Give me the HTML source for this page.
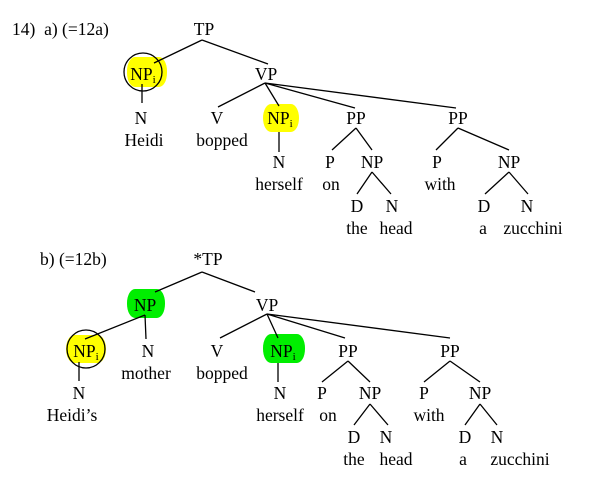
<!DOCTYPE html>
<html><head><meta charset="utf-8"><style>
html,body{margin:0;padding:0;background:#fff;}
svg text{font-family:"Liberation Serif",serif;font-size:17.5px;fill:#000;text-anchor:middle;}
</style></head><body>
<svg width="589" height="475" viewBox="0 0 589 475" xmlns="http://www.w3.org/2000/svg">
<g stroke="#000" stroke-width="1.3" fill="none">
<rect x="127" y="57" width="40" height="30" rx="8" ry="14" fill="#ffff00" stroke="none"/>
<rect x="263" y="104" width="36" height="28" rx="8" ry="14" fill="#ffff00" stroke="none"/>
<circle cx="143" cy="72" r="19"/>
<rect x="127" y="289" width="38" height="29" rx="8" ry="14" fill="#00ee00" stroke="none"/>
<rect x="66" y="335" width="40" height="28" rx="8" ry="14" fill="#ffff00" stroke="none"/>
<circle cx="86" cy="349" r="19"/>
<rect x="263" y="334" width="42" height="29" rx="8" ry="14" fill="#00ee00" stroke="none"/>
<path d="M202 40 L154 63 M202 40 L268 64"/>
<path d="M142 84 L142 103"/>
<path d="M265 83 L218 107 M265 83 L279 106 M265 83 L355 108 M265 83 L456 108"/>
<path d="M279 132 L279 152"/>
<path d="M356 128 L332 150 M356 128 L372 150"/>
<path d="M372 172 L357 194 M372 172 L391 194"/>
<path d="M458 128 L436 150 M458 128 L509 150"/>
<path d="M509 172 L485 194 M509 172 L528 194"/>
<path d="M202 272 L155 292 M202 272 L255 292"/>
<path d="M145 315 L85 339 M145 315 L146 339"/>
<path d="M79 362 L79 381"/>
<path d="M267 314 L220 338 M267 314 L278 338 M267 314 L345 338 M267 314 L450 338"/>
<path d="M278 363 L278 382"/>
<path d="M348 361 L322 382 M348 361 L370 382"/>
<path d="M370 404 L354 425 M370 404 L388 425"/>
<path d="M450 361 L424 382 M450 361 L480 382"/>
<path d="M480 404 L465 425 M480 404 L497 425"/>
</g>
<text x="12" y="35" style="text-anchor:start">14)&#160; a) (=12a)</text>
<text x="204" y="35">TP</text>
<text x="143" y="80">NP<tspan font-size="11" dy="3">i</tspan></text>
<text x="266" y="80">VP</text>
<text x="141" y="124">N</text>
<text x="144" y="146">Heidi</text>
<text x="217" y="124">V</text>
<text x="222" y="146">bopped</text>
<text x="280" y="124">NP<tspan font-size="11" dy="3">i</tspan></text>
<text x="279" y="168">N</text>
<text x="279" y="190">herself</text>
<text x="356" y="124">PP</text>
<text x="330" y="168">P</text>
<text x="331" y="190">on</text>
<text x="372" y="168">NP</text>
<text x="357" y="212">D</text>
<text x="392" y="212">N</text>
<text x="357" y="234">the</text>
<text x="396" y="234">head</text>
<text x="458" y="124">PP</text>
<text x="437" y="168">P</text>
<text x="440" y="190">with</text>
<text x="509" y="168">NP</text>
<text x="484" y="212">D</text>
<text x="527" y="212">N</text>
<text x="483" y="234">a</text>
<text x="533" y="234">zucchini</text>
<text x="40" y="265" style="text-anchor:start">b) (=12b)</text>
<text x="208" y="265">*TP</text>
<text x="145" y="311">NP</text>
<text x="267" y="311">VP</text>
<text x="86" y="357">NP<tspan font-size="11" dy="3">i</tspan></text>
<text x="148" y="357">N</text>
<text x="146" y="379">mother</text>
<text x="79" y="399">N</text>
<text x="72" y="421">Heidi’s</text>
<text x="217" y="357">V</text>
<text x="222" y="379">bopped</text>
<text x="283" y="357">NP<tspan font-size="11" dy="3">i</tspan></text>
<text x="280" y="399">N</text>
<text x="280" y="421">herself</text>
<text x="348" y="357">PP</text>
<text x="322" y="399">P</text>
<text x="328" y="421">on</text>
<text x="370" y="399">NP</text>
<text x="354" y="443">D</text>
<text x="386" y="443">N</text>
<text x="354" y="465">the</text>
<text x="396" y="465">head</text>
<text x="450" y="357">PP</text>
<text x="424" y="399">P</text>
<text x="429" y="421">with</text>
<text x="480" y="399">NP</text>
<text x="465" y="443">D</text>
<text x="497" y="443">N</text>
<text x="463" y="465">a</text>
<text x="520" y="465">zucchini</text>
</svg>
</body></html>
